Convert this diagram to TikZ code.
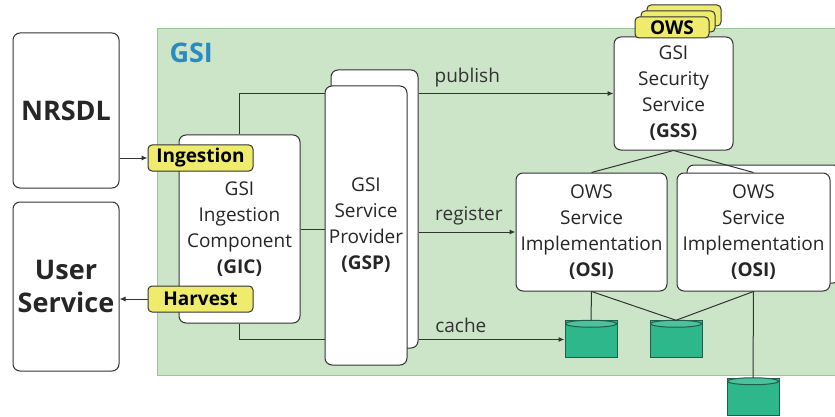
\documentclass[tikz,border=0pt]{standalone}
\usepackage{fontspec}
\setmainfont{Open Sans}
\usetikzlibrary{shapes.geometric,arrows.meta}

\definecolor{gsigreen}{HTML}{CCE5C9}
\definecolor{gsiedge}{HTML}{98C894}
\definecolor{gsiblue}{HTML}{2A8BC2}
\definecolor{tagyellow}{HTML}{EFEB6C}
\definecolor{dbteal}{HTML}{2DB78B}
\definecolor{dbedge}{HTML}{1F5E4A}
\definecolor{ink}{HTML}{333333}

\tikzset{
    box/.style={draw=ink, fill=white, rounded corners=7pt, line width=1pt, align=center, inner sep=0pt, font=\fontsize{19}{26}\selectfont, text=black!85},
    extbox/.style={box, font=\fontsize{27}{33}\selectfont\bfseries},
    tag/.style={draw=ink, fill=tagyellow, rounded corners=4pt, line width=1pt, inner sep=0pt, font=\fontsize{19}{22}\selectfont\bfseries},
    db/.style={cylinder, shape border rotate=90, aspect=0.27, draw=dbedge, fill=dbteal, line width=1pt, minimum width=52pt, minimum height=37pt, inner sep=0pt},
    dbtop/.style={draw=dbedge, fill=dbteal!85!white, line width=1pt},
    conn/.style={draw=ink, line width=1pt},
    arr/.style={conn, -{Latex[length=6pt,width=5pt]}},
    lbl/.style={font=\fontsize{19}{22}\selectfont, text=black!80, above=3pt},
}

\begin{document}
\begin{tikzpicture}[x=1pt, y=-1pt]
    \useasboundingbox (0,0) rectangle (835,417);

    % GSI area
    \fill[gsigreen, draw=gsiedge, line width=1pt] (157,29) rectangle (845,375);
    \node[anchor=base west, text=gsiblue, font=\fontsize{27}{30}\selectfont\bfseries] (gsi) at (166,63) {GSI};

    % outside systems
    \node[extbox, minimum width=106pt, minimum height=155pt] (nrsdl) at (66,110.5) {NRSDL};
    \node[extbox, minimum width=106pt, minimum height=169pt] (user) at (66,286.5) {User\\Service};

    % components
    \node[box, minimum width=121pt, minimum height=188pt] (gic) at (239.5,229) {GSI\\Ingestion\\Component\\\textbf{(GIC)}};
    \node[box, minimum width=87pt, minimum height=278pt] (gspb) at (374.5,209) {};
    \node[box, minimum width=82pt, minimum height=279pt] (gspf) at (366,225.5) {GSI\\Service\\Provider\\\textbf{(GSP)}};
    \node[box, minimum width=119pt, minimum height=113pt] (gss) at (673.5,93.5) {GSI\\Security\\Service\\\textbf{(GSS)}};
    \node[box, minimum width=151pt, minimum height=118pt] (osi1) at (591.5,232) {OWS\\Service\\Implementation\\\textbf{(OSI)}};
    \node[box, minimum width=153pt, minimum height=118pt] (osi2b) at (763.5,224) {};
    \node[box, minimum width=153pt, minimum height=118pt] (osi2) at (753.5,232) {OWS\\Service\\Implementation\\\textbf{(OSI)}};

    % interfaces
    \node[tag, minimum width=105pt, minimum height=26pt] (ing) at (200.5,158) {Ingestion};
    \node[tag, minimum width=105pt, minimum height=26pt] (harv) at (200.5,299) {Harvest};
    \foreach \i/\dx in {3/12,2/6} {
        \node[tag, minimum width=74pt, minimum height=21pt] (ows\i) at (672+\dx,27.5-\dx) {};
    }
    \node[tag, minimum width=74pt, minimum height=21pt] (ows1) at (672,27.5) {OWS};

    % storage
    \node[db] (db1) at (591,339.5) {};
    \node[db] (db2) at (676,339.5) {};
    \node[db] (db3) at (753,397) {};
    \foreach \d in {db1,db2,db3} {
        \draw[dbtop] ([yshift=-3.5pt]\d.north) ellipse (25.5pt and 3.5pt);
    }

    \draw[arr] (nrsdl.east |- ing.west) -- (ing.west);
    \draw[arr] (harv.west) -- (user.east |- harv.west);

    \draw[conn] (gic.north) |- (gspf.west |- gss.west);
    \draw[arr] (gspb.east |- gss.west) -- node[lbl, pos=0.25] {publish} (gss.west);
    \draw[conn] (gic.east) -- (gspf.west |- gic.east);
    \draw[arr] (gspb.east |- osi1.west) -- node[lbl, pos=0.52] {register} (osi1.west);
    \draw[conn] (gic.south) |- (gspf.west |- db1.west);
    \draw[arr] (gspb.east |- db1.west) -- node[lbl, pos=0.29] {cache} (db1.west);

    \draw[conn] (gss.south) -- (osi1.north);
    \draw[conn] (gss.south) -- (osi2.north);
    \draw[conn] (osi1.south) -- (db1.north);
    \draw[conn] (osi1.south) -- (db2.north);
    \draw[conn] (osi2.south) -- (db2.north);
    \draw[conn] (osi2.south) -- (db3.north);
\end{tikzpicture}
\end{document}
